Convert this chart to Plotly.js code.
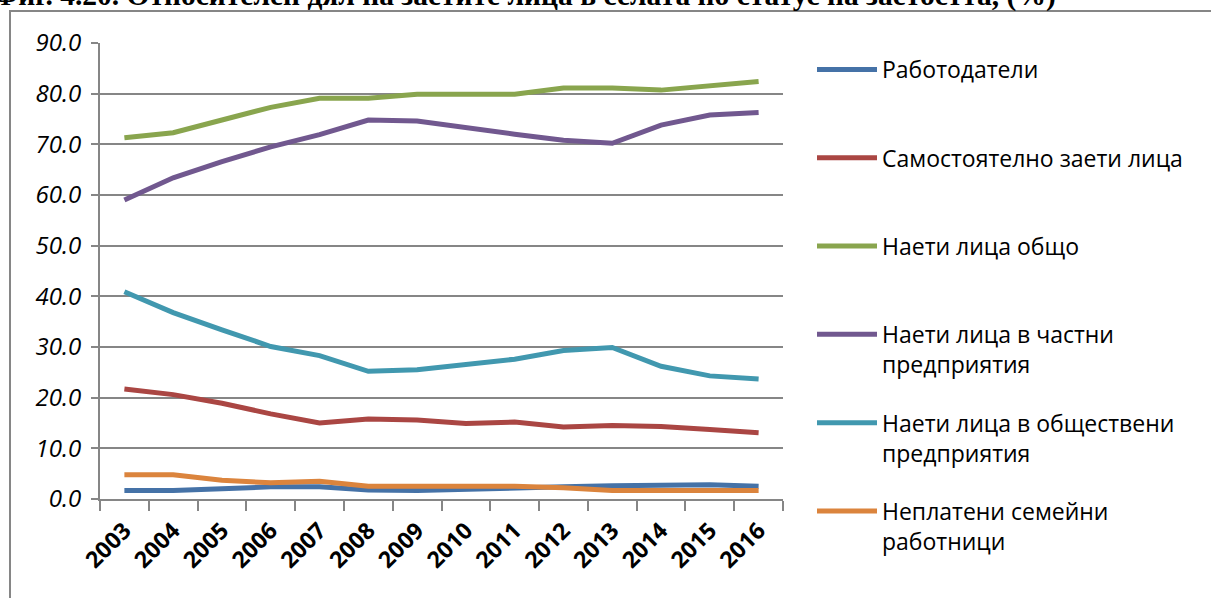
<!DOCTYPE html>
<html>
<head>
<meta charset="utf-8">
<script src="https://cdn.plot.ly/plotly-3.0.1.min.js"></script>
<style>html,body{margin:0;padding:0;background:#fff;}#chart{width:1211px;height:598px;}</style>
</head>
<body>
<div id="chart"></div>
<script>
const years = ["2003","2004","2005","2006","2007","2008","2009","2010","2011","2012","2013","2014","2015","2016"];

const employers      = [1.7, 1.7, 2.0, 2.4, 2.4, 1.8, 1.7, 2.0, 2.1, 2.4, 2.6, 2.8, 2.8, 2.5];
const selfEmployed   = [21.7, 20.6, 18.9, 16.8, 15.0, 15.8, 15.6, 14.9, 15.2, 14.2, 14.5, 14.3, 13.7, 13.1];
const employedTotal  = [71.3, 72.3, 74.8, 77.3, 79.1, 79.1, 79.9, 79.9, 79.9, 81.1, 81.1, 80.7, 81.6, 82.4];
const employedPriv   = [59.0, 63.4, 66.6, 69.5, 71.9, 74.8, 74.6, 73.2, 72.0, 70.8, 70.2, 73.8, 75.8, 76.3];
const employedPublic = [40.9, 36.8, 33.4, 30.1, 28.3, 25.2, 25.5, 26.5, 27.6, 29.3, 29.9, 26.2, 24.3, 23.7];
const unpaidFamily   = [4.8, 4.8, 3.7, 3.2, 3.5, 2.5, 2.5, 2.5, 2.5, 2.2, 1.7, 1.7, 1.7, 1.7];

const seriesNames = [
  "Работодатели<br> ",
  "Самостоятелно заети лица<br> ",
  "Наети лица общо<br> ",
  "Наети лица в частни<br>предприятия",
  "Наети лица в обществени<br>предприятия",
  "Неплатени семейни<br>работници"
];
const seriesValues = [employers, selfEmployed, employedTotal, employedPriv, employedPublic, unpaidFamily];
const seriesColors = ["#4572A7", "#AA4643", "#89A54E", "#71588F", "#4198AF", "#DB843D"];

const titleText = "Фиг. 4.20. Относителен дял на заетите лица в селата по статус на заетостта, (%)";
const yTicks = [0, 10, 20, 30, 40, 50, 60, 70, 80, 90];

const traces = seriesValues.map((vals, i) => ({
  type: "scatter",
  mode: "lines",
  x: years,
  y: vals,
  name: seriesNames[i],
  legendgroup: "g" + i,
  line: {color: seriesColors[i], width: 5, shape: "linear"},
  hoverinfo: "x+y+name"
}));

const W = 1211, H = 598;
const L = 100, R = 783, T = 43, B = 499;
const px = x => (x - L) / (R - L);
const py = y => (B - y) / (B - T);

const layout = {
  width: W, height: H,
  margin: {l: L, r: W - R, t: T, b: H - B, pad: 0},
  paper_bgcolor: "#ffffff",
  plot_bgcolor: "#ffffff",
  showlegend: true,
  font: {family: "Open Sans, sans-serif", color: "#000"},
  xaxis: {
    type: "category",
    categoryorder: "array",
    categoryarray: years,
    range: [-0.5, 13.5],
    tickson: "boundaries",
    ticks: "outside",
    ticklen: 10,
    tickwidth: 2,
    tickcolor: "#868686",
    showline: true,
    linecolor: "#868686",
    linewidth: 2,
    showgrid: false,
    zeroline: false,
    tickangle: -45,
    ticklabelstandoff: 7,
    tickfont: {family: "Open Sans, sans-serif", size: 23, color: "#000", weight: "bold"},
    fixedrange: true
  },
  yaxis: {
    range: [0, 90],
    tickvals: yTicks,
    tickformat: ".1f",
    ticks: "outside",
    ticklen: 7,
    tickwidth: 2,
    tickcolor: "#868686",
    showline: true,
    linecolor: "#868686",
    linewidth: 2,
    showgrid: true,
    gridcolor: "#868686",
    gridwidth: 2,
    zeroline: false,
    ticklabelstandoff: 5,
    tickfont: {family: "Open Sans, sans-serif", size: 24, color: "#000", style: "italic"},
    fixedrange: true
  },
  legend: {
    x: px(812), xanchor: "left",
    y: py(48), yanchor: "top",
    bgcolor: "rgba(0,0,0,0)",
    font: {family: "Open Sans, sans-serif", size: 23, color: "#000"},
    tracegroupgap: 25.5,
    valign: "top",
    itemwidth: 60,
    maxheight: 700,
    traceorder: "grouped"
  },
  shapes: [{
    type: "rect", xref: "paper", yref: "paper",
    x0: px(10), x1: px(1230), y0: py(620), y1: py(11),
    line: {color: "#868686", width: 2},
    fillcolor: "rgba(0,0,0,0)",
    layer: "below"
  }],
  annotations: [{
    text: "<b>" + titleText + "</b>",
    xref: "paper", yref: "paper",
    x: px(1058), xanchor: "right",
    y: py(14), yanchor: "bottom",
    showarrow: false,
    font: {family: "Liberation Serif, Times New Roman, serif", size: 29.5, color: "#000"}
  }]
};

Plotly.newPlot("chart", traces, layout, {displayModeBar: false, staticPlot: true});
</script>
</body>
</html>
